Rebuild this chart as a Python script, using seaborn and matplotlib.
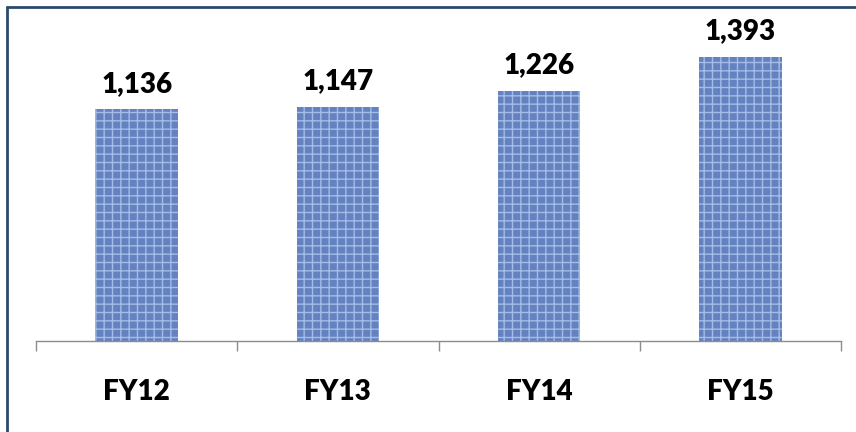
import matplotlib.pyplot as plt
import seaborn as sns
import pandas as pd
from matplotlib.lines import Line2D

years = ['FY12', 'FY13', 'FY14', 'FY15']
values = [1136, 1147, 1226, 1393]

sns.set_style('white')
plt.rcParams['font.family'] = ['Lato', 'DejaVu Sans']
plt.rcParams['hatch.linewidth'] = 1.0

df = pd.DataFrame({'year': years, 'value': values})

fig = plt.figure(figsize=(8.56, 4.32), dpi=100)
ax = fig.add_axes([36 / 856, 1 - 341 / 432, (841 - 36) / 856, (341 - 20) / 432])

sns.barplot(data=df, x='year', y='value', color='#6482c0', saturation=1,
            width=0.41, ax=ax)

# denim-like texture on the bars
for p in ax.patches:
    p.set_hatch('++')
    p.set_edgecolor('#a4bce6')
    p.set_linewidth(0)

ax.bar_label(ax.containers[0], labels=[f'{v:,}' for v in values],
             padding=9, fontsize=20, fontweight='heavy', color='#000000')

ax.set_ylim(0, 1574)
ax.set_xlim(-0.5, len(years) - 0.5)
ax.set_xlabel('')
ax.set_ylabel('')
ax.set_yticks([])

# category dividers as minor ticks, labels without tick marks
ax.set_xticks([i - 0.5 for i in range(len(years) + 1)], minor=True)
ax.tick_params(axis='x', which='minor', length=7, width=1, color='#8c8c8c',
               direction='out', bottom=True)
ax.tick_params(axis='x', which='major', length=0, pad=27, labelsize=20)
for t in ax.get_xticklabels():
    t.set_fontweight('heavy')
    t.set_color('#000000')

sns.despine(ax=ax, left=True)
ax.spines['bottom'].set_color('#8c8c8c')
ax.spines['bottom'].set_linewidth(1)

# outer frame (left and top edges)
frame = '#2d4a6c'
fig.add_artist(Line2D([7 / 856, 7 / 856], [0, 1 - 7 / 432], color=frame, lw=2,
                      transform=fig.transFigure))
fig.add_artist(Line2D([7 / 856, 1], [1 - 7 / 432, 1 - 7 / 432], color=frame, lw=2,
                      transform=fig.transFigure))

fig.savefig('out.png', dpi=100)
